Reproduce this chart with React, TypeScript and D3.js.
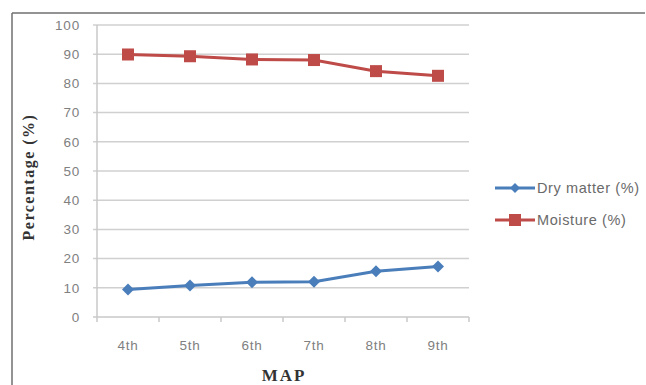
import React from "react";
import * as d3 from "d3";

const categories = ["4th", "5th", "6th", "7th", "8th", "9th"];
const dryMatter = [9.4, 10.8, 11.9, 12.1, 15.7, 17.3];
const moisture = [89.9, 89.3, 88.2, 88.0, 84.2, 82.6];
const yTicks = [0, 10, 20, 30, 40, 50, 60, 70, 80, 90, 100];
const seriesNames = ["Dry matter (%)", "Moisture (%)"];

export default function App() {
  const W = 646, H = 385;
  const x = d3.scaleBand<string>().domain(categories).range([97, 469]);
  const y = d3.scaleLinear().domain([0, 100]).range([317, 25]);
  const cx = (c: string) => (x(c) as number) + x.bandwidth() / 2;
  const line = d3.line<number>().x((_, i) => cx(categories[i])).y((d) => y(d));
  const blue = "#4a7ebb";
  const red = "#be4b48";
  const sans = "'Liberation Sans', Arial, sans-serif";
  const serif = "'Liberation Serif', 'Times New Roman', serif";
  const ticksX = [...categories.map((c) => x(c) as number), 469];
  return (
    <svg width={W} height={H} style={{ position: "absolute", left: 0, top: 0, background: "#fff" }}>
      <line x1={12} y1={13} x2={645} y2={13} stroke="#6f6f6f" strokeWidth={1.5} />
      <line x1={12} y1={13} x2={12} y2={385} stroke="#6f6f6f" strokeWidth={1.5} />
      {yTicks.map((t) => (
        <g key={t}>
          <line x1={93} x2={469} y1={y(t)} y2={y(t)} stroke={t === 0 ? "#c8c8c8" : "#d0d0d0"} strokeWidth={1.5} />
          <text x={80} y={y(t)} dy="0.36em" textAnchor="end" fontFamily={sans} fontSize={13.5} letterSpacing={0.8} fill="#808080">{t}</text>
        </g>
      ))}
      <line x1={97} x2={97} y1={25} y2={317} stroke="#c8c8c8" strokeWidth={1.5} />
      {ticksX.map((t, i) => (
        <line key={i} x1={t} x2={t} y1={317} y2={322} stroke="#c8c8c8" strokeWidth={1.5} />
      ))}
      {categories.map((c) => (
        <text key={c} x={cx(c)} y={345} dy="0.36em" textAnchor="middle" fontFamily={sans} fontSize={13.5} letterSpacing={0.8} fill="#808080">{c}</text>
      ))}
      <path d={line(dryMatter) as string} fill="none" stroke={blue} strokeWidth={3} />
      {dryMatter.map((v, i) => {
        const px = cx(categories[i]), py = y(v);
        return <path key={i} d={`M${px},${py - 6}L${px + 6},${py}L${px},${py + 6}L${px - 6},${py}Z`} fill={blue} />;
      })}
      <path d={line(moisture) as string} fill="none" stroke={red} strokeWidth={3} />
      {moisture.map((v, i) => {
        const px = cx(categories[i]), py = y(v);
        return <rect key={i} x={px - 6} y={py - 6} width={12} height={12} fill={red} />;
      })}
      <g>
        <line x1={495} x2={535} y1={188} y2={188} stroke={blue} strokeWidth={3} />
        <path d={`M515,183L520,188L515,193L510,188Z`} fill={blue} />
        <text x={537} y={188} dy="0.36em" fontFamily={sans} fontSize={14.5} letterSpacing={0.6} fill="#6a6a6a">{seriesNames[0]}</text>
        <line x1={495} x2={535} y1={220} y2={220} stroke={red} strokeWidth={3} />
        <rect x={509} y={214} width={12} height={12} fill={red} />
        <text x={537} y={220} dy="0.36em" fontFamily={sans} fontSize={14.5} letterSpacing={0.6} fill="#6a6a6a">{seriesNames[1]}</text>
      </g>
      <text transform="translate(34,177) rotate(-90)" textAnchor="middle" fontFamily={serif} fontWeight="bold" fontSize={16} letterSpacing={1.5} fill="#333">Percentage (%)</text>
      <text x={284} y={381} textAnchor="middle" fontFamily={serif} fontWeight="bold" fontSize={17} letterSpacing={2} fill="#333">MAP</text>
    </svg>
  );
}
